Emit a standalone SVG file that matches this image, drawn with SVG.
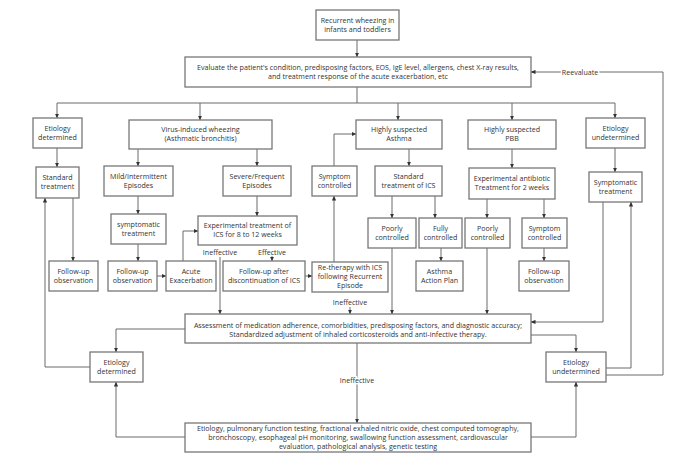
<svg xmlns="http://www.w3.org/2000/svg" width="700" height="458" viewBox="0 0 700 458">
<style>
.b{fill:#fff;stroke:#777;stroke-width:1.3}
text{font-family:"Open Sans","Liberation Sans",sans-serif;font-size:7.1px;fill:#333;text-anchor:middle}
.c{fill:none;stroke:#6a6a6a;stroke-width:1}
.a{marker-end:url(#ar)}
.l{stroke:#fff;stroke-width:3;paint-order:stroke}
</style>
<defs>
<marker id="ar" markerWidth="5" markerHeight="5" refX="4.5" refY="2.5" orient="auto" markerUnits="userSpaceOnUse">
<path d="M0,0.4 L4.8,2.5 L0,4.6 Z" fill="#333"/>
</marker>
</defs>
<rect width="700" height="458" fill="#fff"/>
<g id="connectors">
<path class="c a" d="M357,40V57"/>
<path class="c" d="M357,87V103M57,103H615"/>
<path class="c a" d="M57,103V118"/>
<path class="c a" d="M200,103V120"/>
<path class="c a" d="M398,103V120"/>
<path class="c a" d="M512,103V120"/>
<path class="c a" d="M615,103V118"/>
<path class="c a" d="M57,148V167"/>
<path class="c a" d="M138,149V166"/>
<path class="c a" d="M257,149V166"/>
<path class="c a" d="M409,149V166"/>
<path class="c a" d="M512,149V168"/>
<path class="c a" d="M615,148V172"/>
<path class="c a" d="M138,196V214"/>
<path class="c a" d="M257,196V216"/>
<path class="c a" d="M392,196V218"/>
<path class="c a" d="M435,196V218"/>
<path class="c a" d="M487,199V218"/>
<path class="c a" d="M544,199V218"/>
<path class="c a" d="M73,198V261"/>
<path class="c a" d="M138,244V261"/>
<path class="c a" d="M441,248V261"/>
<path class="c a" d="M544,248V261"/>
<path class="c a" d="M157,276H166"/>
<path class="c a" d="M183,261V231H198"/>
<path class="c a" d="M272,256V261"/>
<text x="272" y="255">Effective</text>
<path class="c a" d="M220,257V314"/>
<text x="220" y="255">Ineffective</text>
<path class="c a" d="M305,276H312"/>
<path class="c a" d="M334,262V196"/>
<path class="c a" d="M334,166V134H356"/>
<path class="c a" d="M350,307V314"/>
<text x="350" y="305">Ineffective</text>
<path class="c a" d="M392,248V314"/>
<path class="c a" d="M487,248V314"/>
<path class="c a" d="M603,202V322H531"/>
<path class="c a" d="M185,329H116V352"/>
<path class="c a" d="M90,367H45V198"/>
<path class="c a" d="M531,335H576V352"/>
<path class="c a" d="M606,368H631V202"/>
<path class="c a" d="M606,375H663V72H531"/>
<text class="l" x="580" y="74.5">Reevaluate</text>
<path class="c a" d="M357,343V423"/>
<text class="l" x="357" y="382.5">Ineffective</text>
<path class="c a" d="M185,437H116V382"/>
<path class="c a" d="M531,437H576V382"/>
</g>
<g id="n1"><rect class="b" x="316" y="10" width="83" height="30"/><text x="357.5" y="23">Recurrent wheezing in</text><text x="357.5" y="31.5">infants and toddlers</text></g>
<g id="n2"><rect class="b" x="185" y="57" width="346" height="30"/><text x="358" y="70">Evaluate the patient's condition, predisposing factors, EOS, IgE level, allergens, chest X-ray results,</text><text x="358" y="78.5">and treatment response of the acute exacerbation, etc</text></g>
<g id="n3"><rect class="b" x="33" y="118" width="49" height="30"/><text x="57.5" y="130.5">Etiology</text><text x="57.5" y="139.5">determined</text></g>
<g id="n4"><rect class="b" x="129" y="120" width="143" height="29"/><text x="200.5" y="132">Virus-induced wheezing</text><text x="200.5" y="141">(Asthmatic bronchitis)</text></g>
<g id="n5"><rect class="b" x="356" y="120" width="86" height="29"/><text x="399" y="132">Highly suspected</text><text x="399" y="141">Asthma</text></g>
<g id="n6"><rect class="b" x="468" y="120" width="88" height="29"/><text x="512" y="132">Highly suspected</text><text x="512" y="141">PBB</text></g>
<g id="n7"><rect class="b" x="586" y="118" width="59" height="30"/><text x="615.5" y="130.5">Etiology</text><text x="615.5" y="139.5">undetermined</text></g>
<g id="n8"><rect class="b" x="36" y="167" width="43" height="31"/><text x="57.5" y="180">Standard</text><text x="57.5" y="189">treatment</text></g>
<g id="n9"><rect class="b" x="104" y="166" width="69" height="30"/><text x="138.5" y="178.5">Mild/Intermittent</text><text x="138.5" y="187.5">Episodes</text></g>
<g id="n10"><rect class="b" x="223" y="166" width="68" height="30"/><text x="257" y="178.5">Severe/Frequent</text><text x="257" y="187.5">Episodes</text></g>
<g id="n11"><rect class="b" x="312" y="166" width="45" height="30"/><text x="334.5" y="178.5">Symptom</text><text x="334.5" y="187.5">controlled</text></g>
<g id="n12"><rect class="b" x="375" y="166" width="67" height="30"/><text x="408.5" y="178.5">Standard</text><text x="408.5" y="187.5">treatment of ICS</text></g>
<g id="n13"><rect class="b" x="469" y="168" width="86" height="31"/><text x="512" y="181">Experimental antibiotic</text><text x="512" y="190">Treatment for 2 weeks</text></g>
<g id="n14"><rect class="b" x="589" y="172" width="53" height="30"/><text x="615.5" y="184.5">Symptomatic</text><text x="615.5" y="193.5">treatment</text></g>
<g id="n15"><rect class="b" x="111" y="214" width="55" height="30"/><text x="138.5" y="226.5">symptomatic</text><text x="138.5" y="235.5">treatment</text></g>
<g id="n16"><rect class="b" x="198" y="216" width="99" height="29"/><text x="247.5" y="228">Experimental treatment of</text><text x="247.5" y="237">ICS for 8 to 12 weeks</text></g>
<g id="n17"><rect class="b" x="368" y="218" width="48" height="30"/><text x="392" y="230.5">Poorly</text><text x="392" y="239.5">controlled</text></g>
<g id="n18"><rect class="b" x="419" y="218" width="43" height="30"/><text x="440.5" y="230.5">Fully</text><text x="440.5" y="239.5">controlled</text></g>
<g id="n19"><rect class="b" x="465" y="218" width="45" height="30"/><text x="487.5" y="230.5">Poorly</text><text x="487.5" y="239.5">controlled</text></g>
<g id="n20"><rect class="b" x="522" y="218" width="45" height="30"/><text x="544.5" y="230.5">Symptom</text><text x="544.5" y="239.5">controlled</text></g>
<g id="n21"><rect class="b" x="49" y="261" width="49" height="30"/><text x="73.5" y="273.5">Follow-up</text><text x="73.5" y="282.5">observation</text></g>
<g id="n22"><rect class="b" x="108" y="261" width="49" height="30"/><text x="132.5" y="273.5">Follow-up</text><text x="132.5" y="282.5">observation</text></g>
<g id="n23"><rect class="b" x="166" y="261" width="50" height="30"/><text x="191" y="273.5">Acute</text><text x="191" y="282.5">Exacerbation</text></g>
<g id="n24"><rect class="b" x="223" y="261" width="82" height="30"/><text x="264" y="273.5">Follow-up after</text><text x="264" y="282.5">discontinuation of ICS</text></g>
<g id="n25"><rect class="b" x="312" y="262" width="76" height="30"/><text x="350" y="269.5">Re-therapy with ICS</text><text x="350" y="278.5">following Recurrent</text><text x="350" y="287.5">Episode</text></g>
<g id="n26"><rect class="b" x="416" y="261" width="47" height="30"/><text x="439.5" y="273.5">Asthma</text><text x="439.5" y="282.5">Action Plan</text></g>
<g id="n27"><rect class="b" x="519" y="261" width="50" height="30"/><text x="544" y="273.5">Follow-up</text><text x="544" y="282.5">observation</text></g>
<g id="n28"><rect class="b" x="185" y="314" width="346" height="29"/><text x="358" y="328">Assessment of medication adherence, comorbidities, predisposing factors, and diagnostic accuracy;</text><text x="358" y="336.5">Standardized adjustment of inhaled corticosteroids and anti-infective therapy.</text></g>
<g id="n29"><rect class="b" x="90" y="352" width="53" height="30"/><text x="116.5" y="364.5">Etiology</text><text x="116.5" y="373.5">determined</text></g>
<g id="n30"><rect class="b" x="546" y="352" width="60" height="30"/><text x="576" y="364.5">Etiology</text><text x="576" y="373.5">undetermined</text></g>
<g id="n31"><rect class="b" x="185" y="423" width="346" height="29"/><text x="358" y="430.5">Etiology, pulmonary function testing, fractional exhaled nitric oxide, chest computed tomography,</text><text x="358" y="439.5">bronchoscopy, esophageal pH monitoring, swallowing function assessment, cardiovascular</text><text x="358" y="448.5">evaluation, pathological analysis, genetic testing</text></g>
</svg>
